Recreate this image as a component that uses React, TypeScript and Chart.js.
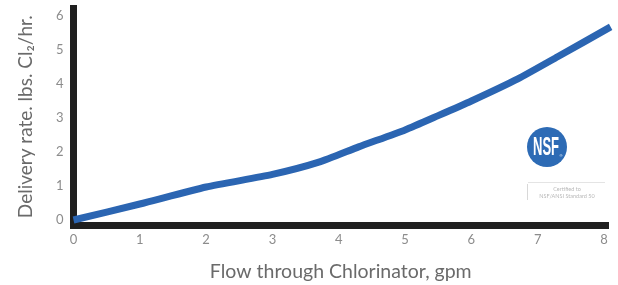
import React, { useEffect, useRef } from "react";
import { Chart, registerables } from "chart.js";

Chart.register(...registerables);

// ---- data ----
const flowGpm = [0, 1, 2, 3, 3.7, 4.3, 5, 5.5, 6, 6.7, 7.3, 8.1];
const deliveryRate = [0, 0.47, 0.97, 1.34, 1.7, 2.15, 2.65, 3.07, 3.5, 4.15, 4.8, 5.68];
const xTicks = [0, 1, 2, 3, 4, 5, 6, 7, 8];
const yTicks = [0, 1, 2, 3, 4, 5, 6];
const xTitle = "Flow through Chlorinator, gpm";
const yTitle = "Delivery rate. lbs. Cl₂/hr.";
const logoText = "NSF";
const logoCaption = ["Certified to", "NSF/ANSI Standard 50"];

const FONT = "Lato, 'Open Sans', sans-serif";

const nsfLogo = {
  id: "nsfLogo",
  afterDraw(chart: any) {
    const { ctx, chartArea } = chart;
    const cx = chartArea.right - 61;
    const cy = chartArea.top + 138.5;
    const r = 20;
    ctx.save();
    ctx.beginPath();
    ctx.arc(cx, cy, r, 0, Math.PI * 2);
    ctx.fillStyle = "#2d6bb5";
    ctx.fill();
    // NSF text
    ctx.font = "bold 26px 'Liberation Sans Narrow', 'Liberation Sans', sans-serif";
    const w = ctx.measureText(logoText).width;
    ctx.translate(cx - 1, cy + 1);
    ctx.scale(26 / w, 1);
    ctx.fillStyle = "#ffffff";
    ctx.textAlign = "center";
    ctx.textBaseline = "middle";
    ctx.fillText(logoText, 0, 0);
    ctx.restore();
    ctx.save();
    ctx.fillStyle = "#ffffff";
    ctx.font = "4px sans-serif";
    ctx.textAlign = "left";
    ctx.textBaseline = "middle";
    ctx.fillText("®", cx + 12.5, cy + 9);
    // caption
    ctx.strokeStyle = "#e4e4e4";
    ctx.lineWidth = 1;
    ctx.beginPath();
    ctx.moveTo(cx - 19, cy + 35.5);
    ctx.lineTo(cx + 58, cy + 35.5);
    ctx.stroke();
    ctx.strokeStyle = "#d8d8d8";
    ctx.beginPath();
    ctx.moveTo(cx - 19.5, cy + 37);
    ctx.lineTo(cx - 19.5, cy + 53);
    ctx.stroke();
    ctx.fillStyle = "#b8b8b8";
    ctx.font = "5.5px " + FONT;
    ctx.textAlign = "center";
    ctx.fillText(logoCaption[0], cx + 20, cy + 42);
    ctx.fillText(logoCaption[1], cx + 20, cy + 49);
    ctx.restore();
  },
};

export default function App() {
  const ref = useRef<HTMLCanvasElement | null>(null);

  useEffect(() => {
    if (!ref.current) return;
    const chart = new Chart(ref.current, {
      type: "line",
      data: {
        datasets: [
          {
            data: flowGpm.map((x, i) => ({ x, y: deliveryRate[i] })),
            borderColor: "#2b65b2",
            borderWidth: 7,
            pointRadius: 0,
            tension: 0.2,
            fill: false,
            clip: false as any,
          },
        ],
      },
      options: {
        animation: false,
        responsive: true,
        maintainAspectRatio: false,
        layout: { padding: { left: 0, right: 10, top: 8.5, bottom: 0 } },
        plugins: {
          legend: { display: false },
          tooltip: { enabled: false },
        },
        scales: {
          x: {
            type: "linear",
            min: 0,
            max: 8.06,
            afterBuildTicks: (s: any) => {
              s.ticks = xTicks.map((v) => ({ value: v }));
            },
            afterFit: (s: any) => {
              s.height = 60;
              s.paddingLeft = 0;
              s.paddingRight = 0;
            },
            grid: { display: false, drawTicks: false },
            border: { display: true, color: "#1f1f1f", width: 7 },
            ticks: {
              padding: 7,
              color: "#8c8c8c",
              font: { family: FONT, size: 13 },
              maxRotation: 0,
              autoSkip: false,
            },
            title: {
              display: true,
              text: xTitle,
              color: "#6a6a6a",
              font: { family: FONT, size: 19.5 },
              padding: { top: 4, bottom: 2 },
            },
          },
          y: {
            type: "linear",
            min: -0.147,
            max: 6.22,
            afterBuildTicks: (s: any) => {
              s.ticks = yTicks.map((v) => ({ value: v }));
            },
            afterFit: (s: any) => {
              s.width = 73.5;
              s.paddingTop = 0;
              s.paddingBottom = 0;
            },
            grid: { display: false, drawTicks: false },
            border: { display: true, color: "#1f1f1f", width: 7 },
            ticks: {
              padding: 10,
              color: "#8c8c8c",
              font: { family: FONT, size: 13 },
            },
            title: {
              display: true,
              text: yTitle,
              color: "#6a6a6a",
              font: { family: FONT, size: 19 },
              padding: { top: 14.5, bottom: 0 },
            },
          },
        },
      },
      plugins: [nsfLogo],
    });
    return () => chart.destroy();
  }, []);

  return (
    <div style={{ position: "fixed", left: 0, top: 0, width: 618, height: 285, background: "#fff" }}>
      <canvas ref={ref} />
    </div>
  );
}
